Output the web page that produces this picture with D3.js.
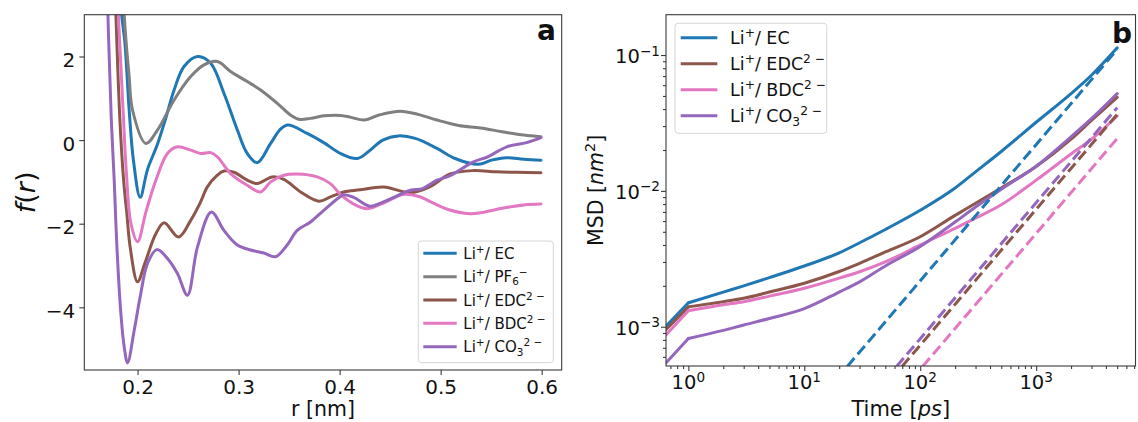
<!DOCTYPE html>
<html><head><meta charset="utf-8">
<script src="https://cdn.jsdelivr.net/npm/d3@7"></script>
<style>
body{margin:0;background:#fff}
svg{display:block}
text{font-family:"DejaVu Sans",sans-serif;fill:#111;white-space:pre}
</style>
</head><body>
<svg id="c" width="1138" height="422"></svg>
<script>
// ---------------- Panel a data: f(r) ----------------
const ecR  = [0.180,0.1835,0.1875,0.1917,0.196,0.2026,0.2099,0.2197,0.2276,0.2362,0.246,0.2593,0.2724,0.2855,0.2988,0.3086,0.3185,0.3317,0.3415,0.3488,0.3679,0.3843,0.4008,0.4173,0.4283,0.4427,0.458,0.4749,0.4964,0.5143,0.5374,0.5502,0.565,0.5824,0.5993];
const ecF  = [6,3.2,2.32,0.72,-0.5,-1.37,-0.7,-0.1,0.5,1.2,1.76,2.0,1.84,1.12,0.24,-0.32,-0.54,-0.08,0.26,0.36,0.16,-0.06,-0.32,-0.44,-0.28,0.0,0.10,0.04,-0.2,-0.44,-0.58,-0.48,-0.42,-0.46,-0.48];

const pfR  = [0.1835,0.1868,0.1917,0.195,0.2082,0.2197,0.2362,0.2526,0.2658,0.279,0.2921,0.3086,0.3218,0.3383,0.3514,0.3596,0.3712,0.3843,0.4008,0.4104,0.4247,0.4391,0.46,0.4785,0.4964,0.5179,0.5394,0.5609,0.5824,0.5993];
const pfF  = [6,3.0,1.52,0.72,-0.08,0.24,0.96,1.52,1.80,1.88,1.64,1.40,1.20,0.88,0.60,0.50,0.52,0.58,0.59,0.55,0.48,0.60,0.69,0.61,0.48,0.35,0.29,0.20,0.12,0.08];

const edcR = [0.175,0.1786,0.1825,0.1862,0.1894,0.1927,0.200,0.2072,0.2181,0.2263,0.2405,0.2526,0.262,0.2691,0.279,0.2855,0.2954,0.3086,0.3185,0.3333,0.3448,0.3613,0.3794,0.3909,0.404,0.42,0.4436,0.47,0.4892,0.5094,0.532,0.555,0.5753,0.5993];
const edcF = [6,3.0,0.5,-0.96,-1.76,-2.56,-3.39,-2.95,-2.24,-1.98,-2.32,-1.92,-1.5,-1.12,-0.84,-0.74,-0.77,-0.96,-1.04,-0.88,-0.94,-1.24,-1.46,-1.36,-1.24,-1.19,-1.12,-1.26,-1.12,-0.81,-0.73,-0.76,-0.77,-0.78];

const bdcR = [0.177,0.181,0.1855,0.189,0.1935,0.200,0.2085,0.2181,0.2296,0.2395,0.2526,0.2625,0.2724,0.279,0.2921,0.3086,0.3218,0.3317,0.3448,0.358,0.3778,0.3909,0.4008,0.414,0.427,0.4391,0.4534,0.462,0.4785,0.4928,0.5072,0.529,0.5394,0.5609,0.5824,0.5993];
const bdcF = [6,3.0,0.8,-0.8,-2.0,-2.43,-1.7,-0.96,-0.32,-0.16,-0.24,-0.32,-0.30,-0.40,-0.8,-1.08,-1.24,-1.0,-0.84,-0.81,-0.88,-1.04,-1.3,-1.53,-1.64,-1.55,-1.39,-1.3,-1.35,-1.51,-1.66,-1.76,-1.74,-1.63,-1.55,-1.53];

const co3R = [0.1685,0.1707,0.174,0.1769,0.1796,0.1835,0.1868,0.1901,0.1967,0.2026,0.2099,0.2191,0.2296,0.2395,0.2494,0.2593,0.2731,0.2855,0.2988,0.3119,0.325,0.3366,0.3481,0.358,0.3712,0.3843,0.3991,0.4035,0.414,0.430,0.4462,0.47,0.482,0.4964,0.5094,0.5325,0.5466,0.5654,0.585,0.5993];
const co3F = [6,3.0,0.5,-0.96,-2.56,-4.15,-4.95,-5.33,-4.55,-3.75,-2.95,-2.62,-2.83,-3.19,-3.71,-2.56,-1.72,-2.16,-2.51,-2.63,-2.70,-2.79,-2.51,-2.16,-1.96,-1.68,-1.38,-1.31,-1.37,-1.58,-1.45,-1.2,-1.16,-0.96,-0.85,-0.52,-0.4,-0.16,-0.06,0.06];

const aXTicks = [0.2,0.3,0.4,0.5,0.6];
const aXTickLabels = ["0.2","0.3","0.4","0.5","0.6"];
const aYTicks = [-4,-2,0,2];
const aYTickLabels = ["\u22124","\u22122","0","2"];

// ---------------- Panel b data: MSD ----------------
const timePs = [0.64,1,2,3,5,10,20,30,50,100,200,300,500,1000,2000,3000,5000];
const msdEC  = [1.01e-3,1.50e-3,1.80e-3,2.0e-3,2.3e-3,2.8e-3,3.5e-3,4.15e-3,5.2e-3,7.2e-3,1.05e-2,1.38e-2,1.95e-2,3.2e-2,5.2e-2,7.1e-2,0.113];
const msdEDC = [9.5e-4,1.40e-3,1.53e-3,1.62e-3,1.8e-3,2.09e-3,2.55e-3,2.93e-3,3.55e-3,4.6e-3,6.6e-3,8.1e-3,1.05e-2,1.51e-2,2.4e-2,3.3e-2,4.88e-2];
const msdBDC = [8.7e-4,1.31e-3,1.45e-3,1.53e-3,1.68e-3,1.92e-3,2.28e-3,2.54e-3,3.0e-3,4.0e-3,5.3e-3,6.3e-3,7.9e-3,1.2e-2,1.87e-2,2.4e-2,3.56e-2];
const msdCO3 = [5.4e-4,8.2e-4,9.4e-4,1.03e-3,1.15e-3,1.36e-3,1.8e-3,2.14e-3,2.8e-3,3.9e-3,5.9e-3,7.6e-3,1.03e-2,1.52e-2,2.5e-2,3.4e-2,5.2e-2];

// diffusive fits (dashed), endpoints [time, msd]
const fitEC  = [[23.5,5.1e-4],[5000,0.110]];
const fitEDC = [[69.7,5.1e-4],[5000,0.0366]];
const fitBDC = [[105,5.1e-4],[5000,0.0243]];
const fitCO3 = [[62.5,5.1e-4],[5000,0.041]];

const bXTicks = [1,10,100,1000];
const bXTickExp = ["0","1","2","3"];
const bYTicks = [1e-3,1e-2,1e-1];
const bYTickExp = ["\u22123","\u22122","\u22121"];

// ---------------- Labels ----------------
const lblEC  = [["Li"],["+","sup"],["/ EC"]];
const lblPF6 = [["Li"],["+","sup"],["/ PF"],["6","sub"],["\u2212","sup"]];
const lblEDC = [["Li"],["+","sup"],["/ EDC"],["2 \u2212","sup"]];
const lblBDC = [["Li"],["+","sup"],["/ BDC"],["2 \u2212","sup"]];
const lblCO3 = [["Li"],["+","sup"],["/ CO"],["3","sub"],["2 \u2212","sup"]];

const C = {blue:"#1f77b4", gray:"#7f7f7f", brown:"#8c564b", pink:"#e377c2", purple:"#9467bd"};
const AX = "#3a3a3a";

const svg = d3.select("#c");

function rich(sel, parts, size){
  let cur = 0;
  parts.forEach(p=>{
    const [s, mode, ital] = p;
    const target = mode==="sup" ? -0.40*size : mode==="sub" ? 0.22*size : 0;
    const t = sel.append("tspan").attr("dy", (target-cur).toFixed(2))
      .attr("font-size", mode ? size*0.7 : size).text(s);
    if (ital) t.attr("font-style","italic");
    cur = target;
  });
  return sel;
}

// ================= Panel a =================
const A = {l:84.3, r:561.7, t:14.7, b:370};
const xa = d3.scaleLinear().domain([0.1473,0.6198]).range([A.l,A.r]);
const ya = d3.scaleLinear().domain([-5.5,3]).range([A.b,A.t]);

svg.append("clipPath").attr("id","clipA").append("rect")
  .attr("x",A.l).attr("y",A.t).attr("width",A.r-A.l).attr("height",A.b-A.t);

const seriesA = [
  {r:ecR, f:ecF, c:C.blue, lbl:lblEC},
  {r:pfR, f:pfF, c:C.gray, lbl:lblPF6},
  {r:edcR, f:edcF, c:C.brown, lbl:lblEDC},
  {r:bdcR, f:bdcF, c:C.pink, lbl:lblBDC},
  {r:co3R, f:co3F, c:C.purple, lbl:lblCO3}
];
const lineA = d3.line().x(d=>xa(d[0])).y(d=>ya(d[1])).curve(d3.curveCatmullRom.alpha(0.5));
const gA = svg.append("g").attr("clip-path","url(#clipA)");
seriesA.forEach(s=>{
  gA.append("path").attr("d", lineA(s.r.map((r,i)=>[r,s.f[i]])))
    .attr("fill","none").attr("stroke",s.c).attr("stroke-width",3)
    .attr("stroke-linejoin","round").attr("stroke-linecap","round");
});

// axes a
const axA = d3.axisBottom(xa).tickValues(aXTicks).tickSize(5).tickFormat((d,i)=>aXTickLabels[i]);
const gxa = svg.append("g").attr("transform",`translate(0,${A.b})`).call(axA);
gxa.select(".domain").remove();
gxa.selectAll("line").attr("stroke",AX).attr("stroke-width",1.1);
gxa.selectAll("text").attr("y",24.3).attr("dy",null).attr("font-size",20)
  .attr("font-family","DejaVu Sans").attr("fill","#111");

const ayA = d3.axisLeft(ya).tickValues(aYTicks).tickSize(5).tickFormat((d,i)=>aYTickLabels[i]);
const gya = svg.append("g").attr("transform",`translate(${A.l},0)`).call(ayA);
gya.select(".domain").remove();
gya.selectAll("line").attr("stroke",AX).attr("stroke-width",1.1);
gya.selectAll("text").attr("x",-9).attr("dy",null).attr("y",10).attr("font-size",20)
  .attr("font-family","DejaVu Sans").attr("fill","#111");

svg.append("rect").attr("x",A.l).attr("y",A.t).attr("width",A.r-A.l).attr("height",A.b-A.t)
  .attr("fill","none").attr("stroke",AX).attr("stroke-width",1.1);

svg.append("text").attr("x",(A.l+A.r)/2).attr("y",416).attr("text-anchor","middle")
  .attr("font-size",20.5).text("r [nm]");
rich(svg.append("text").attr("transform",`translate(35,${(A.t+A.b)/2}) rotate(-90)`)
  .attr("text-anchor","middle"), [["f","",true],["("],["r","",true],[")"]], 27);
svg.append("text").attr("x",556).attr("y",39.5).attr("text-anchor","end")
  .attr("font-size",28).attr("font-weight","bold").attr("fill","#000").text("a");

// legend a
{
  const lx=418.3, ly=241, lw=135, lh=121.7;
  const g = svg.append("g");
  g.append("rect").attr("x",lx).attr("y",ly).attr("width",lw).attr("height",lh)
    .attr("rx",3).attr("fill","#fff").attr("fill-opacity",0.85).attr("stroke","#d6d6d6").attr("stroke-width",1);
  seriesA.forEach((s,i)=>{
    const y = 253.3 + i*23.35;
    g.append("line").attr("x1",423.3).attr("x2",456.7).attr("y1",y).attr("y2",y)
      .attr("stroke",s.c).attr("stroke-width",3);
    rich(g.append("text").attr("x",463.3).attr("y",y+5.5), s.lbl, 15);
  });
}

// ================= Panel b =================
const B = {l:666, r:1135.5, t:14.7, b:366};
const xb = d3.scaleLog().domain([Math.pow(10,-0.193),Math.pow(10,3.857)]).range([B.l,B.r]);
const yb = d3.scaleLog().domain([Math.pow(10,-3.289),Math.pow(10,-0.703)]).range([B.b,B.t]);

svg.append("clipPath").attr("id","clipB").append("rect")
  .attr("x",B.l).attr("y",B.t).attr("width",B.r-B.l).attr("height",B.b-B.t);

const seriesB = [
  {m:msdEC, fit:fitEC, c:C.blue, lbl:lblEC},
  {m:msdEDC, fit:fitEDC, c:C.brown, lbl:lblEDC},
  {m:msdBDC, fit:fitBDC, c:C.pink, lbl:lblBDC},
  {m:msdCO3, fit:fitCO3, c:C.purple, lbl:lblCO3}
];
const lineB = d3.line().x(d=>xb(d[0])).y(d=>yb(d[1])).curve(d3.curveMonotoneX);
const lineLin = d3.line().x(d=>xb(d[0])).y(d=>yb(d[1]));
const gB = svg.append("g").attr("clip-path","url(#clipB)");
seriesB.forEach(s=>{
  const pts = timePs.map((t,i)=>[t,s.m[i]]);
  // straight first segment (sharp kink at t = 1), smooth afterwards
  gB.append("path").attr("d", lineLin(pts.slice(0,2)))
    .attr("fill","none").attr("stroke",s.c).attr("stroke-width",3).attr("stroke-linecap","round");
  gB.append("path").attr("d", lineB(pts.slice(1)))
    .attr("fill","none").attr("stroke",s.c).attr("stroke-width",3)
    .attr("stroke-linejoin","round").attr("stroke-linecap","round");
});
seriesB.forEach(s=>{
  gB.append("path").attr("d", lineLin(s.fit))
    .attr("fill","none").attr("stroke",s.c).attr("stroke-width",3)
    .attr("stroke-dasharray","11,5");
});

// minor ticks
function minors(lo, hi){
  const out=[];
  for(let e=Math.floor(Math.log10(lo)); e<=Math.ceil(Math.log10(hi)); e++){
    for(let k=2;k<=9;k++){ const v=k*Math.pow(10,e); if(v>=lo && v<=hi) out.push(v); }
  }
  return out;
}
const xdom = xb.domain(), ydom = yb.domain();
const gxbm = svg.append("g").attr("transform",`translate(0,${B.b})`)
  .call(d3.axisBottom(xb).tickValues(minors(xdom[0],xdom[1])).tickSize(3).tickFormat(""));
const gybm = svg.append("g").attr("transform",`translate(${B.l},0)`)
  .call(d3.axisLeft(yb).tickValues(minors(ydom[0],ydom[1])).tickSize(3).tickFormat(""));
const gxb = svg.append("g").attr("transform",`translate(0,${B.b})`)
  .call(d3.axisBottom(xb).tickValues(bXTicks).tickSize(5).tickFormat(""));
const gyb = svg.append("g").attr("transform",`translate(${B.l},0)`)
  .call(d3.axisLeft(yb).tickValues(bYTicks).tickSize(5).tickFormat(""));
[gxbm,gybm,gxb,gyb].forEach(g=>{
  g.select(".domain").remove();
  g.selectAll("line").attr("stroke",AX).attr("stroke-width",1.1);
  g.selectAll("text").remove();
});
bXTicks.forEach((v,i)=>{
  rich(svg.append("text").attr("x",xb(v)).attr("y",389.3).attr("text-anchor","middle"),
    [["10"],[bXTickExp[i],"sup"]], 19.5);
});
bYTicks.forEach((v,i)=>{
  rich(svg.append("text").attr("x",660).attr("y",yb(v)+8.3).attr("text-anchor","end"),
    [["10"],[bYTickExp[i],"sup"]], 19.5);
});

svg.append("rect").attr("x",B.l).attr("y",B.t).attr("width",B.r-B.l).attr("height",B.b-B.t)
  .attr("fill","none").attr("stroke",AX).attr("stroke-width",1.1);

rich(svg.append("text").attr("x",(B.l+B.r)/2).attr("y",416).attr("text-anchor","middle"),
  [["Time ["],["ps","",true],["]"]], 21);
rich(svg.append("text").attr("transform",`translate(603,${(B.t+B.b)/2}) rotate(-90)`)
  .attr("text-anchor","middle"), [["MSD ["],["nm","",true],["2","sup"],["]"]], 20.5);
svg.append("text").attr("x",1132).attr("y",43).attr("text-anchor","end")
  .attr("font-size",28).attr("font-weight","bold").attr("fill","#000").text("b");

// legend b
{
  const lx=675, ly=23.3, lw=151.7, lh=110;
  const g = svg.append("g");
  g.append("rect").attr("x",lx).attr("y",ly).attr("width",lw).attr("height",lh)
    .attr("rx",3).attr("fill","#fff").attr("fill-opacity",0.85).attr("stroke","#d6d6d6").attr("stroke-width",1);
  seriesB.forEach((s,i)=>{
    const y = 37.7 + i*26;
    g.append("line").attr("x1",680.7).attr("x2",717.3).attr("y1",y).attr("y2",y)
      .attr("stroke",s.c).attr("stroke-width",3);
    rich(g.append("text").attr("x",730).attr("y",y+6.4), s.lbl, 17.5);
  });
}
</script>
</body></html>
